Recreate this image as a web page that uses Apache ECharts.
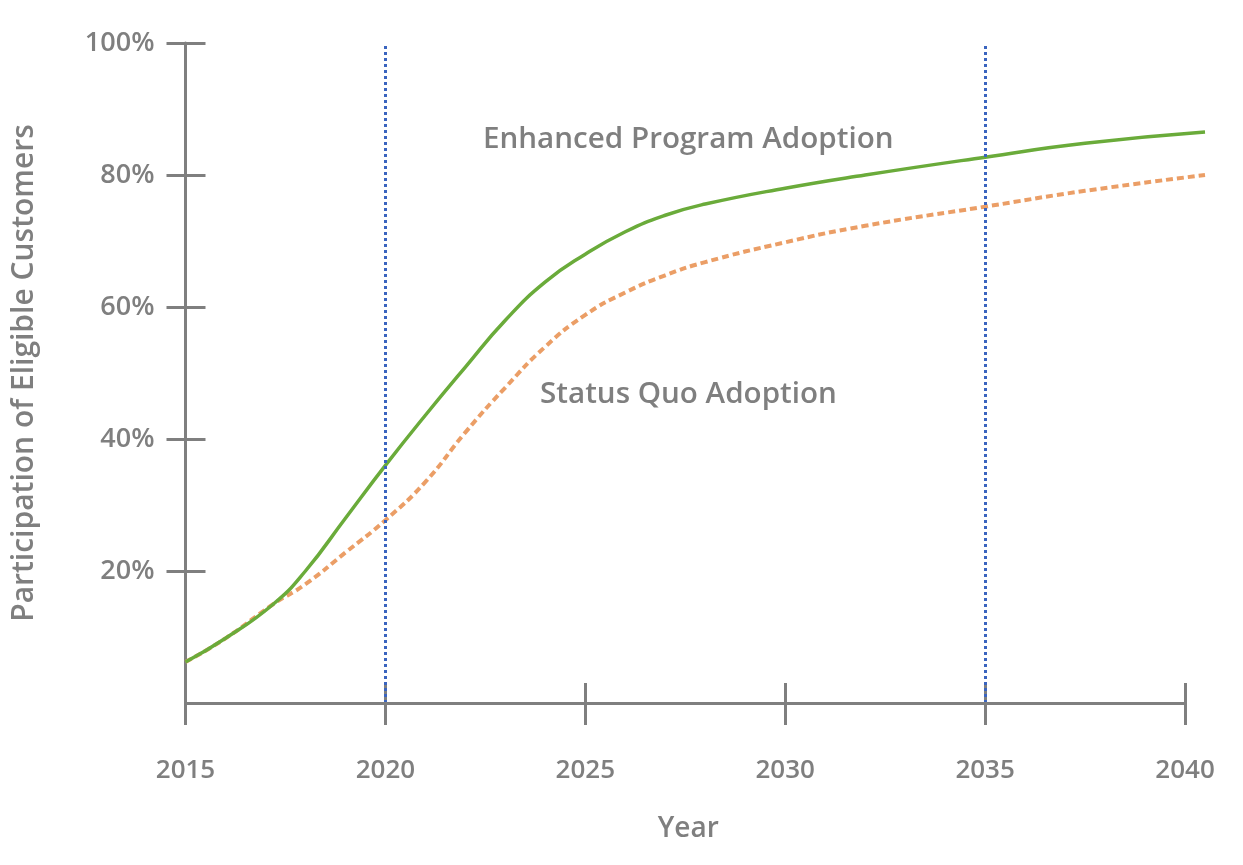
<!DOCTYPE html>
<html>
<head>
<meta charset="utf-8">
<script src="https://cdn.jsdelivr.net/npm/echarts@6/dist/echarts.min.js"></script>
<style>
  html, body { margin: 0; padding: 0; background: #fff; }
  #chart { width: 1243px; height: 865px; }
</style>
</head>
<body>
<div id="chart"></div>
<script>
var years = [2015, 2016, 2017.2, 2018, 2019, 2020, 2021, 2022, 2023, 2024, 2025, 2026, 2027, 2028, 2030, 2032, 2035, 2037.5, 2040.5];
var enhanced = [6.2, 9.8, 15.0, 20.0, 28.0, 36.0, 43.6, 50.9, 58.0, 63.8, 68.0, 71.4, 73.9, 75.6, 78.0, 80.0, 82.7, 84.8, 86.5];
var statusQuo = [6.2, 9.8, 15.0, 18.0, 22.8, 27.7, 33.5, 41.0, 47.8, 54.0, 58.8, 62.2, 64.8, 66.8, 69.8, 72.3, 75.2, 77.6, 80.0];
var markYears = [2020, 2035];
var xTicks = [2015, 2020, 2025, 2030, 2035, 2040];
var yTicks = [20, 40, 60, 80, 100];

var gray = '#7f7f7f';
var font = '"Open Sans", sans-serif';

function pairs (vals) {
  return years.map(function (y, i) { return [y, vals[i]]; });
}

var chart = echarts.init(document.getElementById('chart'));
var option = {
  animation: false,
  backgroundColor: '#fff',
  grid: { left: 185.5, right: 18, top: 43, bottom: 162 },
  xAxis: [
    {
      type: 'value', min: 2015, max: 2041, interval: 5,
      axisLine: { show: false },
      axisTick: { show: true, length: 22, customValues: xTicks, lineStyle: { color: gray, width: 3 } },
      axisLabel: { color: gray, fontSize: 26, fontWeight: 600, fontFamily: font, margin: 55,
        customValues: xTicks, formatter: function (v) { return String(v); } },
      splitLine: { show: false },
      name: 'Year', nameLocation: 'middle', nameGap: 112,
      nameTextStyle: { color: gray, fontSize: 28, fontWeight: 600, fontFamily: font, padding: [0, 34, 0, 0] }
    },
    {
      type: 'value', min: 2015, max: 2041, interval: 5, position: 'bottom',
      axisLine: { show: false },
      axisTick: { show: true, inside: true, length: 20, customValues: xTicks, lineStyle: { color: gray, width: 3 } },
      axisLabel: { show: false },
      splitLine: { show: false }
    }
  ],
  yAxis: [
    {
      type: 'value', min: 0, max: 100, interval: 20,
      axisLine: { show: true, lineStyle: { color: gray, width: 3 } },
      axisTick: { show: true, length: 19, customValues: yTicks, lineStyle: { color: gray, width: 3 } },
      axisLabel: { color: gray, fontSize: 27, fontWeight: 600, fontFamily: font, margin: 31,
        customValues: yTicks, formatter: '{value}%' },
      splitLine: { show: false },
      name: 'Participation of Eligible Customers', nameLocation: 'middle', nameGap: 146,
      nameTextStyle: { color: gray, fontSize: 30, fontWeight: 600, fontFamily: font }
    },
    {
      type: 'value', min: 0, max: 100, interval: 20, position: 'left',
      axisLine: { show: false },
      axisTick: { show: true, inside: true, length: 20, customValues: yTicks, lineStyle: { color: gray, width: 3 } },
      axisLabel: { show: false },
      splitLine: { show: false }
    }
  ],
  series: [
    {
      name: 'Status Quo Adoption',
      type: 'line', smooth: true, symbol: 'none',
      data: pairs(statusQuo),
      lineStyle: { color: '#eb9e66', width: 4, type: [7, 4] },
      markLine: {
        silent: true, symbol: 'none', label: { show: false },
        lineStyle: { color: '#3a64bf', width: 3, type: 'dotted' },
        data: markYears.map(function (y) { return { xAxis: y }; })
      },
      z: 2
    },
    {
      name: 'Enhanced Program Adoption',
      type: 'line', smooth: true, symbol: 'none',
      data: pairs(enhanced),
      lineStyle: { color: '#6aab3a', width: 3.5 },
      // x axis baseline, drawn only up to the last labelled year
      markLine: {
        silent: true, symbol: 'none', label: { show: false },
        lineStyle: { color: gray, width: 3, type: 'solid' },
        data: [[{ coord: [xTicks[0], 0] }, { coord: [xTicks[xTicks.length - 1], 0] }]]
      },
      z: 3
    }
  ],
  graphic: [
    { type: 'text', left: 483, top: 125,
      style: { text: 'Enhanced Program Adoption', fill: gray, font: '600 29.6px ' + font } },
    { type: 'text', left: 540, top: 380,
      style: { text: 'Status Quo Adoption', fill: gray, font: '600 29.6px ' + font } }
  ]
};
chart.setOption(option);
</script>
</body>
</html>
